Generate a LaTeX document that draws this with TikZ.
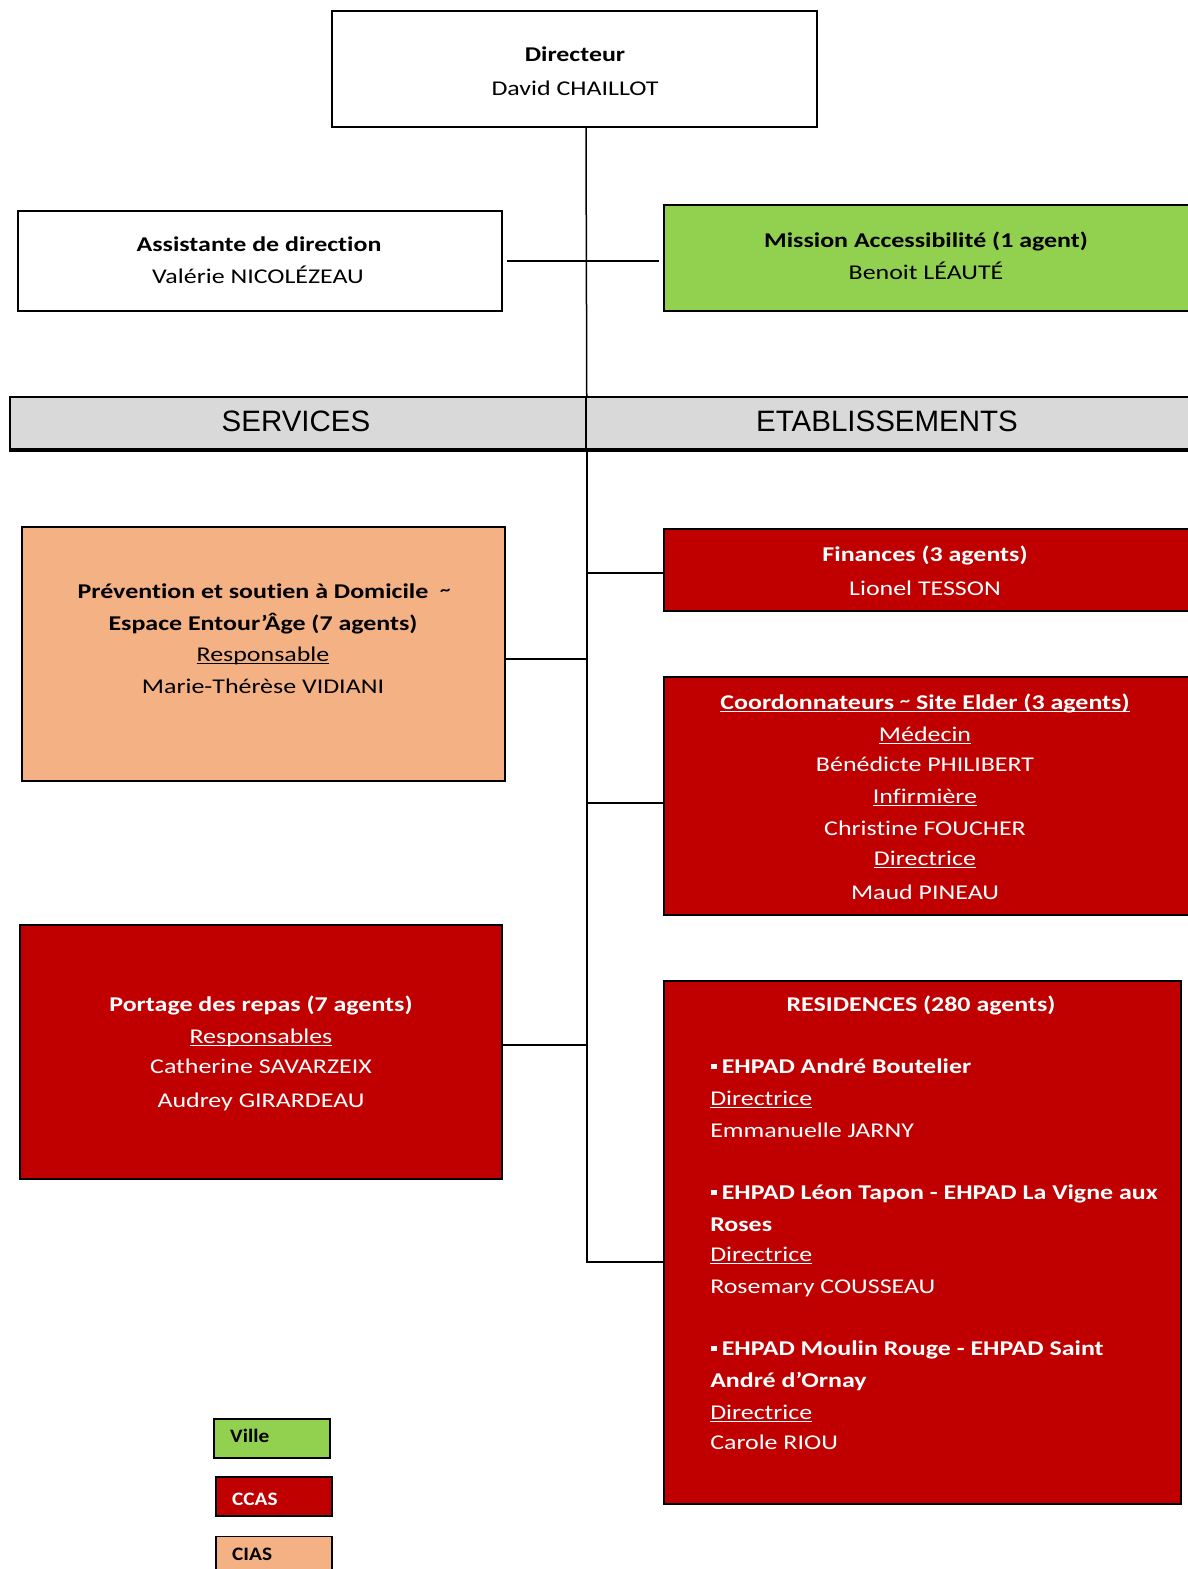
\documentclass[tikz,border=0pt]{standalone}
\usepackage{fontspec}
\setmainfont{Carlito}[Ligatures={TeX,NoCommon}]
\newfontfamily\arialf{Liberation Sans}
\definecolor{ville}{HTML}{92D050}
\definecolor{ccas}{HTML}{C00000}
\definecolor{cias}{HTML}{F4B183}
\definecolor{barg}{HTML}{D9D9D9}
\newcommand\ulx[1]{\setbox0\hbox{#1}\rlap{\rule[-3.2pt]{\wd0}{1.3pt}}\box0}
\newcommand\sqb{\raisebox{4pt}{\rule{4.5pt}{5pt}}\hspace{4pt}}
\newcommand\tld{\raisebox{3pt}{\scalebox{0.8}{\textasciitilde}}}
\begin{document}
\begin{tikzpicture}[x=1pt,y=-1pt,
  box/.style={draw=black, line width=1.5pt, inner sep=0pt, minimum width=#1},
  txt/.style={font=\fontsize{21}{25}\selectfont, anchor=base, inner sep=0pt, xscale=1.235, transform shape},
  tb/.style={txt, font=\fontsize{21}{25}\selectfont\bfseries},
  lw/.style={txt, anchor=base west},
  lwb/.style={tb, anchor=base west},
  leg/.style={font=\fontsize{19}{22}\selectfont\bfseries, anchor=base west, inner sep=0pt, xscale=1.12, transform shape},
  conn/.style={draw=black, line width=1.5pt}]
\useasboundingbox (0,0) rectangle (1187,1569);

% boxes
\node[box=485pt, minimum height=116pt, fill=white] (dir) at (574.5,69) {};
\node[box=484pt, minimum height=100pt, fill=white] (asst) at (260,261) {};
\node[box=526pt, minimum height=106pt, fill=ville] (miss) at (927,258) {};
\node[box=576pt, minimum height=53pt, fill=barg] (serv) at (298,423.5) {};
\node[box=604pt, minimum height=53pt, fill=barg] (etab) at (888,423.5) {};
\node[box=483pt, minimum height=254pt, fill=cias] (prev) at (263.5,654) {};
\node[box=526pt, minimum height=82pt, fill=ccas] (fin) at (927,570) {};
\node[box=526pt, minimum height=238pt, fill=ccas] (coord) at (927,796) {};
\node[box=482pt, minimum height=254pt, fill=ccas] (port) at (261,1052) {};
\node[box=517pt, minimum height=523pt, fill=ccas] (res) at (922.5,1242.5) {};

% legend
\node[box=116pt, minimum height=39pt, fill=ville] (lv) at (272,1438.5) {};
\node[box=116pt, minimum height=39pt, fill=ccas] (lc) at (274,1496.5) {};
\node[box=116pt, minimum height=39pt, fill=cias] (li) at (274,1556) {};
\node[leg] (lvt) at (230,1442) {Ville};
\node[leg, text=white] (lct) at (232,1505) {CCAS};
\node[leg] (lit) at (232,1560) {CIAS};

% bar bottom
\draw[line width=4pt] ([yshift=1pt]serv.south west) -- ([yshift=1pt]etab.south east);
\node[font=\arialf\fontsize{29.5}{32}\selectfont, inner sep=0pt] (servt) at (296,421) {SERVICES};
\node[font=\arialf\fontsize{29.5}{32}\selectfont, inner sep=0pt] (etabt) at (887,421) {ETABLISSEMENTS};

% connectors
\coordinate (sp) at (586,0);
\coordinate (resin) at (664,1262);
\draw[conn] (dir.south -| sp) -- (serv.north east);
\draw[conn] (serv.south east) |- (resin);
\draw[conn] ([xshift=4pt]asst.east) -- ([xshift=-4pt]miss.west |- asst.east);
\draw[conn] ([yshift=-5pt]prev.east) -- ([yshift=-5pt]prev.east -| sp);
\draw[conn] ([yshift=-3pt]fin.west) -- ([yshift=-3pt]fin.west -| sp);
\draw[conn] ([yshift=-7pt]coord.west) -- ([yshift=-7pt]coord.west -| sp);
\draw[conn] ([yshift=7pt]port.east) -- ([yshift=7pt]port.east -| sp);

% texts
\node[tb] (t1) at (575,61) {Directeur};
\node[txt] (t2) at (575,95) {David CHAILLOT};
\node[tb] (t3) at (259,251) {Assistante de direction};
\node[txt] (t4) at (258,283) {Valérie NICOLÉZEAU};
\node[tb] (t5) at (926,247) {Mission Accessibilité (1 agent)};
\node[txt] (t6) at (926,279) {Benoit LÉAUTÉ};

\node[tb] (p1) at (264,598) {Prévention et soutien à Domicile\ \ \tld};
\node[tb] (p2) at (263,630) {Espace Entour’Âge (7 agents)};
\node[txt] (p3) at (263,661) {\ulx{Responsable}};
\node[txt] (p4) at (263,693) {Marie-Thérèse VIDIANI};

\node[tb, text=white] (f1) at (925,561) {Finances (3 agents)};
\node[txt, text=white] (f2) at (925,595) {Lionel TESSON};

\node[tb, text=white] (c1) at (925,709) {\ulx{Coordonnateurs \tld\ Site Elder (3 agents)}};
\node[txt, text=white] (c2) at (925,741) {\ulx{Médecin}};
\node[txt, text=white] (c3) at (925,771) {Bénédicte PHILIBERT};
\node[txt, text=white] (c4) at (925,803) {\ulx{Infirmière}};
\node[txt, text=white] (c5) at (925,835) {Christine FOUCHER};
\node[txt, text=white] (c6) at (925,865) {\ulx{Directrice}};
\node[txt, text=white] (c7) at (925,899) {Maud PINEAU};

\node[tb, text=white] (o1) at (261,1011) {Portage des repas (7 agents)};
\node[txt, text=white] (o2) at (261,1043) {\ulx{Responsables}};
\node[txt, text=white] (o3) at (261,1073) {Catherine SAVARZEIX};
\node[txt, text=white] (o4) at (261,1107) {Audrey GIRARDEAU};

\node[tb, text=white] (r0) at (921,1011) {RESIDENCES (280 agents)};
\node[lwb, text=white] (r1) at (711,1073) {\sqb EHPAD André Boutelier};
\node[lw, text=white] (r2) at (710,1105) {\ulx{Directrice}};
\node[lw, text=white] (r3) at (710,1137) {Emmanuelle JARNY};
\node[lwb, text=white] (r4) at (711,1199) {\sqb EHPAD Léon Tapon - EHPAD La Vigne aux};
\node[lwb, text=white] (r5) at (710,1231) {Roses};
\node[lw, text=white] (r6) at (710,1261) {\ulx{Directrice}};
\node[lw, text=white] (r7) at (710,1293) {Rosemary COUSSEAU};
\node[lwb, text=white] (r8) at (711,1355) {\sqb EHPAD Moulin Rouge - EHPAD Saint};
\node[lwb, text=white] (r9) at (710,1387) {André d’Ornay};
\node[lw, text=white] (r10) at (710,1419) {\ulx{Directrice}};
\node[lw, text=white] (r11) at (710,1449) {Carole RIOU};
\end{tikzpicture}
\end{document}
